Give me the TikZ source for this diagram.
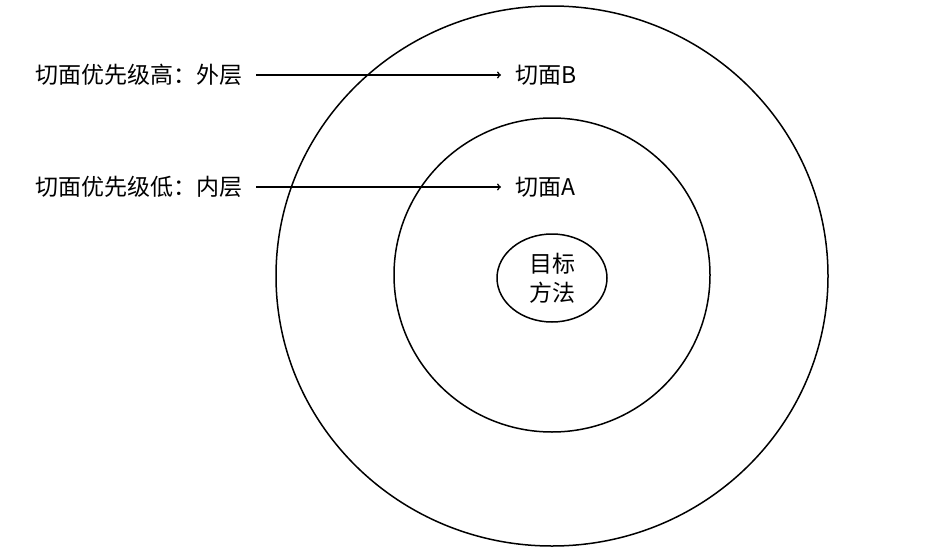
\documentclass[tikz,border=0pt]{standalone}
\usepackage{fontspec}
\setmainfont{Noto Sans CJK SC}
\usetikzlibrary{arrows,shapes.geometric}
\begin{document}
\begin{tikzpicture}[x=1pt,y=-1pt,
    ring/.style={draw,line width=1.5pt},
    lbl/.style={font=\fontsize{23}{27}\selectfont,inner sep=0pt},
    ptr/.style={line width=1.5pt,->}]
        \useasboundingbox (0,0) rectangle (934,546);
        \draw[ring] (552,276) ellipse (276 and 270);
        \draw[ring] (552,275) ellipse (158 and 157);
        \node[ring,ellipse,minimum width=110,minimum height=88,inner sep=0pt,
              font=\fontsize{23}{29}\selectfont,align=center] (tgt) at (552,278) {目标\\方法};
        \node[lbl,anchor=west] (hi) at (35,75) {切面优先级高：外层};
        \node[lbl,anchor=west] (b) at (515,75) {切面B};
        \node[lbl,anchor=west] (lo) at (35,187) {切面优先级低：内层};
        \node[lbl,anchor=west] (a) at (515,187) {切面A};
        \draw[ptr] ([xshift=14]hi.east) -- ([xshift=-14]b.west);
        \draw[ptr] ([xshift=14]lo.east) -- ([xshift=-14]a.west);
\end{tikzpicture}
\end{document}
